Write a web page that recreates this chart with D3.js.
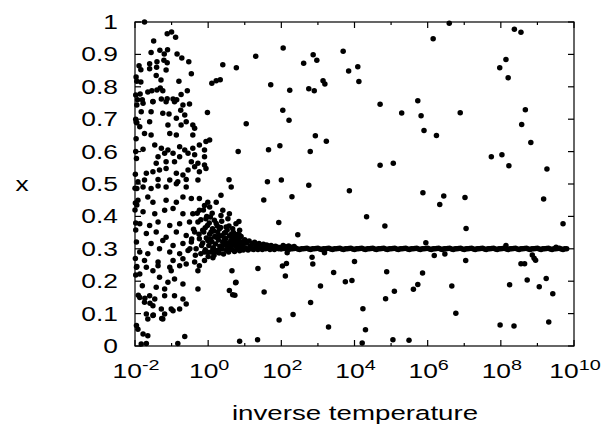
<!DOCTYPE html>
<html>
<head>
<meta charset="utf-8">
<script src="https://cdn.jsdelivr.net/npm/d3@7"></script>
<style>
  body { margin: 0; background: #fff; }
  text { font-family: "Liberation Sans", Arial, sans-serif; fill: #000; }
</style>
</head>
<body>
<svg id="chart" width="615" height="430"></svg>
<script>
// points are [log10(inverse temperature), x]
const hotPoints = [
  [-1.74,1.0],[-1.12,0.964],[-1.0,0.969],[-0.89,0.953],[-1.49,0.941],
  [-1.56,0.906],[-1.32,0.913],[-1.11,0.914],[-1.20,0.901],[-0.85,0.901],
  [-1.89,0.865],[-1.84,0.853],[-1.6,0.871],[-1.6,0.856],[-1.4,0.877],[-1.41,0.86],[-1.21,0.882],[-1.12,0.874],[-0.72,0.889],[-0.53,0.877],[-1.15,0.852],
  [0.40,0.868],[0.77,0.859],
  [-0.46,0.84],[-1.42,0.835],[-1.29,0.821],[-0.80,0.817],[-1.95,0.817],[-1.84,0.815],
  [0.10,0.811],[0.22,0.819],[0.33,0.822],
  [-1.31,0.796],[-1.24,0.788],[-1.65,0.784],[-1.54,0.788],[-1.40,0.790],[-0.57,0.788],[-0.74,0.776],[-1.86,0.778],
  [-1.80,0.760],[-1.28,0.762],[-1.12,0.763],[-0.96,0.762],[-0.86,0.760],[-1.51,0.755],
  [-0.02,0.721],[0.82,0.60],[0.57,0.513],
  [-1.78,0.749],[-1.95,0.744],[-1.51,0.754],[-1.15,0.754],[-0.92,0.754],[-0.69,0.744],[-0.51,0.747],
  [-1.83,0.723],[-1.56,0.723],[-1.24,0.718],[-1.07,0.716],[-0.75,0.728],[-0.64,0.713],
  [-1.95,0.689],[-1.87,0.677],[-1.60,0.692],[-1.10,0.682],[-0.87,0.703],[-0.74,0.682],[-0.60,0.692],[-0.42,0.682],[-0.37,0.672],
  [-1.74,0.656],[-1.56,0.651],[-1.05,0.656],[-0.87,0.651],[-0.42,0.651],[0.04,0.636],[-0.06,0.631],
  [-1.46,0.620],[-1.28,0.610],[-1.10,0.605],[-0.78,0.615],[-0.64,0.605],[-0.42,0.610],[-0.24,0.620],[-0.10,0.605],
  [-1.98,0.600],[-1.78,0.607],[-1.37,0.584],[-1.19,0.595],[-0.96,0.595],[-0.78,0.584],[-0.55,0.595],[-0.37,0.590],[-0.10,0.584],
  [-1.96,0.579],[-1.42,0.564],[-1.15,0.569],[-0.92,0.569],[-0.46,0.569],[-0.28,0.564],[-0.10,0.559],
  [-1.69,0.533],[-1.51,0.538],[-1.33,0.543],[-1.15,0.548],[-0.87,0.533],[-0.69,0.528],[-0.55,0.543],[-0.37,0.553],[-0.24,0.538],[-0.06,0.548],
  [-1.92,0.507],[-1.74,0.512],[-1.37,0.514],[-1.05,0.512],[-0.83,0.507],[-0.60,0.514],[-0.28,0.512],
  [-1.95,0.486],[-1.78,0.491],[-1.56,0.486],[-1.37,0.494],[-1.15,0.491],[-0.87,0.501],[-0.60,0.491],[0.63,0.491],
  [-1.92,0.450],[-1.65,0.460],[-1.51,0.444],[-1.15,0.450],[-0.87,0.444],[-0.69,0.460],[-0.46,0.455],[-0.24,0.455],[-0.01,0.444],[0.35,0.465],
  [-1.78,0.414],[-1.46,0.408],[-1.19,0.419],[-0.96,0.424],[-0.69,0.408],[-0.42,0.408],[-0.24,0.419],[-0.10,0.434],[0.04,0.429],[0.22,0.444],[0.40,0.419],[0.58,0.408],
  [-1.87,0.377],[-1.60,0.372],[-1.37,0.383],[-1.05,0.372],[-0.78,0.377],[-0.51,0.383],[-0.28,0.383],[-0.06,0.393],[0.17,0.388],[0.35,0.403],[0.54,0.393],[0.76,0.377],
  [-1.69,0.347],[-1.42,0.352],[-1.15,0.336],[-0.87,0.352],[-0.60,0.341],[-0.37,0.352],[-0.15,0.357],[0.08,0.352],[0.31,0.362],[0.49,0.367],[0.67,0.362],[0.86,0.357],
  [-1.96,0.321],[-1.56,0.316],[-1.24,0.326],[-0.96,0.310],[-0.69,0.316],[-0.46,0.321],[-0.24,0.331],[-0.01,0.326],[0.22,0.336],[0.45,0.331],[0.67,0.336],[0.86,0.341],
  [-1.87,0.290],[-1.65,0.285],[-1.33,0.300],[-1.05,0.290],[-0.78,0.285],[-0.55,0.295],[-0.33,0.300],[-0.10,0.290],[0.13,0.300],[0.35,0.306],[0.58,0.306],[0.81,0.310],
  [-1.74,0.264],[-1.37,0.259],[-0.96,0.264],[-0.69,0.269],[-0.37,0.259],[-0.10,0.264],[0.13,0.272],
  [-1.96,0.243],[-1.69,0.243],[-1.37,0.248],[-1.05,0.243],[-0.78,0.248],[-0.60,0.253],[-0.24,0.248],[0.65,0.232],
  [-1.87,0.222],[-1.51,0.232],[-1.01,0.232],[-0.28,0.232],
  [-1.33,0.212],[-1.10,0.197],[-0.92,0.207],[-0.69,0.191],[0.76,0.197],
  [-1.80,0.186],[-1.42,0.181],[-1.19,0.176],[-0.28,0.176],[0.58,0.171],[0.67,0.158],
  [-1.87,0.150],[-1.60,0.155],[-1.46,0.145],[-1.19,0.155],[-0.92,0.155],[-0.69,0.145],
  [-1.74,0.135],[-1.51,0.124],[-1.28,0.114],[-1.01,0.114],[-0.78,0.114],[-0.60,0.130],
  [-1.69,0.099],[-1.51,0.094],[-1.19,0.099],[-0.96,0.109],
  [-1.65,0.083],[-1.24,0.083],
  [-1.96,0.063],[-1.92,0.052],
  [-1.78,0.037],[-1.65,0.032],
  [-1.83,0.006],[-1.69,0.008],
  [-0.83,0.008],[-0.64,0.029],
  [0.86,0.015]
];

// more dots read along the left border and in the dark patch just below 10^0
const extraPoints = [
  [-2.0,0.487],[-1.95,0.435],[-2.0,0.420],[-1.95,0.245],[-1.91,0.157],[-1.73,0.147],[-1.59,0.132],[-1.50,0.096],[-1.27,0.085],
  [-1.98,0.775],[-1.97,0.691],[-1.99,0.441],[-1.98,0.358],[-1.98,0.219],[-1.98,0.700],[-1.97,0.640],[-1.99,0.530],
  [-1.98,0.380],[-1.99,0.270],[-1.93,0.760],[-1.97,0.830],
  [-0.50,0.300],[-0.45,0.330],[-0.40,0.360],[-0.35,0.280],[-0.30,0.410],[-0.25,0.345],[-0.20,0.390],[-0.18,0.310],
  [-0.13,0.420],[-0.08,0.365],[-0.04,0.400],[-0.03,0.290],[0.03,0.380],[0.07,0.330],[0.11,0.410],[0.15,0.355],
  [0.19,0.290],[0.25,0.370],[0.29,0.340],[0.33,0.300],[0.37,0.385],[0.43,0.325],[0.47,0.350],[0.53,0.300],
  [0.57,0.370],[0.63,0.310],[0.69,0.350],[0.75,0.330],[0.83,0.345]
];

const wedgePoints = [
  [-0.20,0.285],[-0.15,0.318],[-0.12,0.352],[-0.08,0.297],[-0.05,0.333],[-0.02,0.372],[0.00,0.276],[0.02,0.310],
  [0.04,0.345],[0.06,0.398],[0.08,0.290],[0.10,0.322],[0.12,0.362],[0.14,0.303],[0.16,0.280],[0.18,0.338],
  [0.20,0.315],[0.22,0.378],[0.24,0.295],[0.26,0.352],[0.28,0.327],[0.30,0.287],[0.32,0.308],[0.34,0.366],
  [0.36,0.340],[0.38,0.300],[0.40,0.320],[0.42,0.284],[0.44,0.348],[0.46,0.312],[0.48,0.332],[0.50,0.296],
  [0.52,0.358],[0.54,0.318],[0.56,0.290],[0.58,0.340],[0.60,0.305],[0.62,0.326],[0.64,0.346],[0.66,0.298],
  [0.68,0.314],[0.70,0.334],[0.72,0.292],[0.74,0.322],[0.76,0.308],[0.78,0.344],[0.80,0.300],[0.82,0.318],
  [0.84,0.330],[0.86,0.294],[0.88,0.312],[0.90,0.338],[0.92,0.304],[0.94,0.322],[0.96,0.296],[0.98,0.316],
  [1.00,0.328],[1.03,0.302],[1.06,0.318],[1.09,0.296],[1.12,0.324],[1.15,0.308],[1.18,0.300],[1.21,0.316],
  [1.24,0.298],[1.27,0.320],[1.30,0.306],[1.33,0.312],[1.36,0.298],[1.39,0.316],[1.42,0.304],[1.45,0.310],
  [1.48,0.298],[1.51,0.314],[1.54,0.304],[1.57,0.300],[1.60,0.312],[1.63,0.302],[1.66,0.308],[1.69,0.298],
  [1.72,0.310],[1.75,0.302],[1.78,0.306],[1.81,0.298],[1.84,0.308],[1.87,0.302],[1.90,0.305],[1.93,0.300],
  [1.96,0.304],[1.99,0.300],[2.05,0.310],[2.12,0.306],[2.20,0.309],[2.28,0.305],[2.35,0.307]
];

// the long band at x = 0.3, a dot about every 0.05 decade
const plateauPoints = [
  [2.00,0.300],[2.05,0.301],[2.10,0.302],[2.15,0.299],[2.20,0.298],[2.25,0.300],[2.30,0.300],[2.35,0.301],[2.40,0.302],[2.45,0.299],
  [2.50,0.298],[2.55,0.300],[2.60,0.300],[2.65,0.301],[2.70,0.302],[2.75,0.299],[2.80,0.298],[2.85,0.300],[2.90,0.300],[2.95,0.301],
  [3.00,0.302],[3.05,0.299],[3.10,0.298],[3.15,0.300],[3.20,0.300],[3.25,0.301],[3.30,0.302],[3.35,0.299],[3.40,0.298],[3.45,0.300],
  [3.50,0.300],[3.55,0.301],[3.60,0.302],[3.65,0.299],[3.70,0.298],[3.75,0.300],[3.80,0.300],[3.85,0.301],[3.90,0.302],[3.95,0.299],
  [4.00,0.298],[4.05,0.300],[4.10,0.300],[4.15,0.301],[4.20,0.302],[4.25,0.299],[4.30,0.298],[4.35,0.300],[4.40,0.300],[4.45,0.301],
  [4.50,0.302],[4.55,0.299],[4.60,0.298],[4.65,0.300],[4.70,0.300],[4.75,0.301],[4.80,0.302],[4.85,0.299],[4.90,0.298],[4.95,0.300],
  [5.00,0.300],[5.05,0.301],[5.10,0.302],[5.15,0.299],[5.20,0.298],[5.25,0.300],[5.30,0.300],[5.35,0.301],[5.40,0.302],[5.45,0.299],
  [5.50,0.298],[5.55,0.300],[5.60,0.300],[5.65,0.301],[5.70,0.302],[5.75,0.299],[5.80,0.298],[5.85,0.300],[5.90,0.300],[5.95,0.301],
  [6.00,0.302],[6.05,0.299],[6.10,0.298],[6.15,0.300],[6.20,0.300],[6.25,0.301],[6.30,0.302],[6.35,0.299],[6.40,0.298],[6.45,0.300],
  [6.50,0.300],[6.55,0.301],[6.60,0.302],[6.65,0.299],[6.70,0.298],[6.75,0.300],[6.80,0.300],[6.85,0.301],[6.90,0.302],[6.95,0.299],
  [7.00,0.298],[7.05,0.300],[7.10,0.300],[7.15,0.301],[7.20,0.302],[7.25,0.299],[7.30,0.298],[7.35,0.300],[7.40,0.300],[7.45,0.301],
  [7.50,0.302],[7.55,0.299],[7.60,0.298],[7.65,0.300],[7.70,0.300],[7.75,0.301],[7.80,0.302],[7.85,0.299],[7.90,0.298],[7.95,0.300],
  [8.00,0.300],[8.05,0.301],[8.10,0.302],[8.15,0.299],[8.20,0.298],[8.25,0.300],[8.30,0.300],[8.35,0.301],[8.40,0.302],[8.45,0.299],
  [8.50,0.298],[8.55,0.300],[8.60,0.300],[8.65,0.301],[8.70,0.302],[8.75,0.299],[8.80,0.298],[8.85,0.300],[8.90,0.300],[8.95,0.301],
  [9.00,0.302],[9.05,0.299],[9.10,0.298],[9.15,0.300],[9.20,0.300],[9.25,0.301],[9.30,0.302],[9.35,0.299],[9.40,0.298],[9.45,0.300],
  [9.50,0.300],[9.55,0.301],[9.60,0.302],[9.65,0.299],[9.70,0.298],[9.75,0.300],[9.80,0.300]
];

const strayPoints = [
  [0.84,0.384],[1.93,0.381],[2.45,0.343],[1.62,0.507],[2.0,0.512],[2.75,0.496],[3.86,0.479],[1.52,0.451],[2.29,0.461],
  [4.33,0.399],[4.83,0.370],[2.16,0.288],[3.18,0.288],[2.84,0.274],[2.86,0.253],[2.14,0.255],[2.03,0.247],[4.0,0.261],
  [1.36,0.239],[2.11,0.216],[3.43,0.227],[3.75,0.198],[3.93,0.202],[4.88,0.229],[0.75,0.195],[0.73,0.157],[1.53,0.167],
  [3.07,0.185],[5.09,0.169],[2.80,0.134],[4.85,0.146],[4.23,0.115],[2.32,0.097],[1.94,0.080],[3.29,0.059],[4.30,0.050],
  [1.35,0.019],[4.21,0.009],[5.05,0.019],
  [1.30,0.894],[2.05,0.920],[2.87,0.899],[2.97,0.882],[2.61,0.873],[3.69,0.910],[3.84,0.849],[4.09,0.862],[4.12,0.816],
  [1.71,0.806],[2.23,0.789],[2.75,0.794],[2.90,0.788],[3.14,0.819],[3.19,0.809],[4.70,0.746],[5.29,0.719],[2.04,0.728],
  [2.21,0.697],[1.04,0.686],[2.93,0.649],[3.23,0.632],[1.65,0.606],[1.96,0.618],[2.79,0.600],[4.70,0.558],[5.06,0.564],
  [6.59,0.996],[6.15,0.948],[8.37,0.978],[8.55,0.968],[8.14,0.884],[7.97,0.859],[8.20,0.828],[5.73,0.757],
  [5.82,0.711],[6.89,0.720],[5.90,0.665],[6.24,0.650],[8.67,0.729],[8.57,0.684],[8.82,0.628],[7.74,0.584],[8.03,0.590],
  [8.22,0.556],[9.26,0.546],
  [5.87,0.473],[6.44,0.463],[6.33,0.437],[7.02,0.458],[9.17,0.454],[7.05,0.363],[9.70,0.377],[5.95,0.319],[8.14,0.310],
  [9.51,0.305],[6.18,0.279],[6.47,0.284],[7.04,0.264],[8.55,0.254],[8.65,0.254],[8.86,0.281],[8.91,0.271],[8.95,0.265],
  [5.86,0.225],[5.73,0.190],[5.61,0.175],[6.66,0.185],[8.24,0.189],[8.72,0.204],[9.24,0.208],[9.05,0.183],[9.42,0.161],
  [6.77,0.101],[7.98,0.065],[8.36,0.062],[9.31,0.074],[5.49,0.018]
];

const xMajorExp = [-2, 0, 2, 4, 6, 8, 10];
const xMinorExp = [-1, 1, 3, 5, 7, 9];
const yTicks = [0, 0.1, 0.2, 0.3, 0.4, 0.5, 0.6, 0.7, 0.8, 0.9, 1];

const plotLeft = 135, plotRight = 574, plotTop = 22, plotBottom = 346;
const stretch = 1.32; // the original lettering is wide

const svg = d3.select("#chart");

const xScale = d3.scaleLog().domain([1e-2, 1e10]).range([plotLeft, plotRight]);
const yScale = d3.scaleLinear().domain([0, 1]).range([plotBottom, plotTop]);

// dots first, frame on top
const allPoints = hotPoints.concat(extraPoints, wedgePoints, plateauPoints, strayPoints);
svg.append("g").selectAll("circle")
  .data(allPoints).enter()
  .append("circle")
  .attr("cx", d => xScale(Math.pow(10, d[0])))
  .attr("cy", d => yScale(d[1]))
  .attr("r", 2.75)
  .attr("fill", "#000");

const frame = svg.append("g").attr("stroke", "#000").attr("stroke-width", 1.2);
frame.append("rect")
  .attr("x", plotLeft).attr("y", plotTop)
  .attr("width", plotRight - plotLeft).attr("height", plotBottom - plotTop)
  .attr("fill", "none");

// inward ticks on all four sides
xMajorExp.forEach(e => {
  const px = xScale(Math.pow(10, e));
  frame.append("line").attr("x1", px).attr("x2", px).attr("y1", plotBottom).attr("y2", plotBottom - 6);
  frame.append("line").attr("x1", px).attr("x2", px).attr("y1", plotTop).attr("y2", plotTop + 6);
});
xMinorExp.forEach(e => {
  const px = xScale(Math.pow(10, e));
  frame.append("line").attr("x1", px).attr("x2", px).attr("y1", plotBottom).attr("y2", plotBottom - 3);
  frame.append("line").attr("x1", px).attr("x2", px).attr("y1", plotTop).attr("y2", plotTop + 3);
});
yTicks.forEach(v => {
  const py = yScale(v);
  frame.append("line").attr("x1", plotLeft).attr("x2", plotLeft + 6).attr("y1", py).attr("y2", py);
  frame.append("line").attr("x1", plotRight).attr("x2", plotRight - 6).attr("y1", py).attr("y2", py);
});

// y tick labels
svg.append("g").selectAll("text")
  .data(yTicks).enter()
  .append("text")
  .attr("transform", d => `translate(118,${yScale(d)}) scale(${stretch},1)`)
  .attr("dy", "0.35em")
  .attr("text-anchor", "end")
  .attr("font-size", 20)
  .text(d => String(+d.toFixed(1)));

// x tick labels, 10 with a raised exponent
const xl = svg.append("g").selectAll("text")
  .data(xMajorExp).enter()
  .append("text")
  .attr("transform", d => `translate(${xScale(Math.pow(10, d)) + 1},378) scale(${stretch},1)`)
  .attr("text-anchor", "middle")
  .attr("font-size", 20);
xl.append("tspan").text("10");
xl.append("tspan").attr("dy", -8).attr("font-size", 15).text(d => String(d));

svg.append("text")
  .attr("transform", "translate(355,420) scale(1.42,1)")
  .attr("text-anchor", "middle")
  .attr("font-size", 19.5)
  .text("inverse temperature");

svg.append("text")
  .attr("transform", `translate(22,184) scale(${stretch},1)`)
  .attr("text-anchor", "middle")
  .attr("dy", "0.35em")
  .attr("font-size", 20)
  .text("x");
</script>
</body>
</html>
